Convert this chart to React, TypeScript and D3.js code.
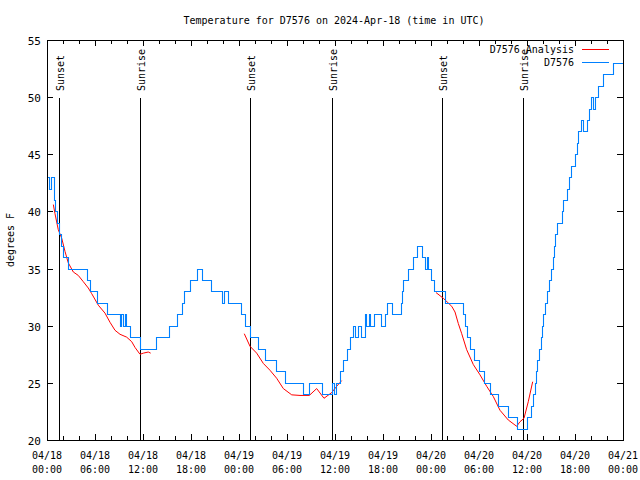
import React from "react";
import * as d3 from "d3";

const TITLE = "Temperature for D7576 on 2024-Apr-18 (time in UTC)";
const Y_LABEL = "degrees F";
const SERIES_NAMES = ["D7576 Analysis", "D7576"];
const Y_TICKS = [20, 25, 30, 35, 40, 45, 50, 55];
const X_LABEL_HOURS = [0, 6, 12, 18, 24, 30, 36, 42, 48, 54, 60, 66, 72];
const X_MINOR_HOURS = d3.range(0, 73, 2);
const START_DAY = 18;

// Sun events: hours since 04/18 00:00 UTC
const SUN_EVENTS: [number, string][] = [
  [1.45, "Sunset"],
  [11.65, "Sunrise"],
  [25.4, "Sunset"],
  [35.6, "Sunrise"],
  [49.4, "Sunset"],
  [59.55, "Sunrise"],
];

// Observed station temperatures [hour, °F] (stepped)
const OBSERVED: [number, number][] = [
  [0, 43], [0.25, 42], [0.5, 43], [0.875, 41], [1.0, 40], [1.25, 39], [1.5, 38], [1.75, 37],
  [2.0, 36], [2.625, 35], [5.0, 34], [5.375, 33], [6.25, 32], [7.5, 31], [9.125, 30], [9.3, 31],
  [9.5, 30], [9.7, 31], [9.85, 30], [10.375, 29], [11.625, 28], [13.625, 29], [15.25, 30],
  [16.25, 31], [16.875, 32], [17.125, 33], [17.875, 34], [18.75, 35], [19.375, 34], [20.5, 33],
  [21.875, 32], [22.125, 33], [22.625, 32], [24.25, 31], [24.75, 30], [25.375, 29], [26.375, 28],
  [27.25, 27], [28.625, 26], [29.75, 25], [32.0, 24], [32.75, 25], [34.375, 24], [35.625, 25],
  [35.875, 24], [36.125, 25], [36.625, 26], [37.0, 27], [37.5, 28], [37.875, 29], [38.25, 30],
  [38.5, 29], [38.875, 30], [39.25, 29], [39.75, 31], [39.875, 30], [40.25, 31], [40.375, 30],
  [40.875, 31], [41.75, 30], [42.25, 31], [42.5, 32], [43.125, 31], [44.25, 32], [44.375, 33],
  [44.5, 34], [45.125, 35], [45.75, 36], [46.25, 37], [46.875, 36], [47.25, 35], [47.5, 36],
  [47.625, 35], [48.0, 34], [48.375, 33], [49.75, 32], [52.0, 31], [52.25, 30], [52.5, 29],
  [52.875, 28], [53.375, 27], [54.0, 26], [54.625, 25], [55.375, 24], [56.375, 23], [57.625, 22],
  [58.75, 21], [60.0, 22], [60.5, 23], [60.75, 24], [60.94, 25], [61.125, 26], [61.31, 27],
  [61.5, 28], [61.69, 29], [61.875, 30], [62.06, 31], [62.25, 32], [62.5, 33], [62.75, 34],
  [63.0, 35], [63.19, 36], [63.375, 37], [63.56, 38], [63.69, 39], [64.375, 40], [64.56, 41],
  [65.0, 42], [65.19, 43], [65.44, 44], [65.94, 45], [66.19, 46], [66.375, 47], [66.75, 48],
  [66.94, 47], [67.44, 48], [67.69, 49], [68.0, 50], [68.25, 49], [68.5, 50], [68.875, 51],
  [69.5, 52], [70.75, 53], [72, 53],
];

// Analysis segments [hour, °F]
const ANALYSIS_1: [number, number][] = [
  [0.79, 40.6], [1.0, 39.8], [1.41, 38.4], [1.84, 37.65], [2.25, 36.5], [2.66, 35.5], [3.29, 34.7],
  [3.91, 34.4], [4.54, 33.85], [5.16, 33.3], [5.59, 32.8], [6.41, 31.8], [7.25, 31.1], [7.875, 30.3],
  [8.5, 29.6], [9.125, 29.25], [9.96, 29.0], [10.59, 28.6], [11.0, 28.1], [11.625, 27.5],
  [12.04, 27.6], [12.66, 27.7], [12.96, 27.6],
];
const ANALYSIS_2: [number, number][] = [
  [24.66, 29.3], [25.375, 28.2], [26.21, 27.6], [27.04, 26.7], [27.875, 26.1], [28.71, 25.4],
  [29.54, 24.5], [30.59, 23.95], [31.625, 23.9], [32.79, 23.9], [33.71, 24.5], [34.625, 23.65],
  [35.59, 24.15], [36.21, 24.7], [36.84, 25.2],
];
const ANALYSIS_3: [number, number][] = [
  [48.625, 32.9], [49.54, 32.4], [50.59, 31.7], [51.0, 31.2], [51.41, 30.2], [51.84, 29.3],
  [52.46, 27.9], [53.29, 26.6], [54.125, 25.7], [54.96, 24.7], [55.79, 23.8], [56.625, 22.6],
  [57.66, 21.75], [58.71, 21.2], [59.125, 21.6], [59.625, 21.9], [60.16, 23.35], [60.71, 25.1],
];

const BLUE = "#0080ff";
const RED = "#ff0000";
const FONT = "'DejaVu Sans Mono', 'Liberation Mono', monospace";

export default function App() {
  const W = 640, H = 480;
  const L = 47, R = 623, T = 40, B = 440;
  const x = d3.scaleLinear().domain([0, 72]).range([L, R]);
  const y = d3.scaleLinear().domain([20, 55]).range([B, T]);

  const stepLine = d3.line<[number, number]>()
    .x(d => Math.round(x(d[0])) + 0.5)
    .y(d => Math.round(y(d[1])) + 0.5)
    .curve(d3.curveStepAfter);
  const line = d3.line<[number, number]>()
    .x(d => x(d[0]))
    .y(d => y(d[1]));

  const fmt = (h: number) => {
    const day = START_DAY + Math.floor(h / 24);
    const hh = h % 24;
    return [`04/${String(day).padStart(2, "0")}`, `${String(hh).padStart(2, "0")}:00`];
  };

  return (
    <svg width={W} height={H} style={{ position: "absolute", left: 0, top: 0, background: "#fff" }}
      fontFamily={FONT}>
      <rect x={0} y={0} width={W} height={H} fill="#fff" />
      <text x={334} y={24} fontSize={10} textAnchor="middle" fill="#000">{TITLE}</text>

      {/* y ticks */}
      {Y_TICKS.map(t => {
        const yy = Math.round(y(t)) + 0.5;
        return (
          <g key={"y" + t}>
            <line x1={L} x2={L + 6} y1={yy} y2={yy} stroke="#000" />
            <line x1={R - 6} x2={R} y1={yy} y2={yy} stroke="#000" />
            <text x={41} y={yy + 4} fontSize={11} textAnchor="end" fill="#000">{t}</text>
          </g>
        );
      })}

      {/* x ticks */}
      {X_MINOR_HOURS.map(h => {
        const xx = Math.round(x(h)) + 0.5;
        const major = h % 6 === 0;
        const len = major ? 6 : 4;
        return (
          <g key={"x" + h}>
            <line x1={xx} x2={xx} y1={B} y2={B - len} stroke="#000" />
            <line x1={xx} x2={xx} y1={T} y2={T + len} stroke="#000" />
          </g>
        );
      })}
      {X_LABEL_HOURS.map(h => {
        const [a, b] = fmt(h);
        return (
          <g key={"xl" + h}>
            <text x={x(h)} y={459} fontSize={10} textAnchor="middle" fill="#000">{a}</text>
            <text x={x(h)} y={473} fontSize={10} textAnchor="middle" fill="#000">{b}</text>
          </g>
        );
      })}

      <text transform={`translate(14,240) rotate(-90)`} fontSize={10} textAnchor="middle" fill="#000">{Y_LABEL}</text>

      {/* sun events */}
      {SUN_EVENTS.map(([h, label], i) => {
        const xx = Math.round(x(h)) + 0.5;
        return (
          <g key={"s" + i}>
            <line x1={xx} x2={xx} y1={98} y2={B} stroke="#000" />
            <text transform={`translate(${xx + 4},91) rotate(-90)`} fontSize={10} fill="#000">{label}</text>
          </g>
        );
      })}

      {/* series */}
      {[ANALYSIS_1, ANALYSIS_2, ANALYSIS_3].map((seg, i) => (
        <path key={"a" + i} d={line(seg) || ""} fill="none" stroke={RED} strokeWidth={1} />
      ))}
      <path d={stepLine(OBSERVED) || ""} fill="none" stroke={BLUE} strokeWidth={1.1} />

      {/* legend */}
      <text x={574} y={53} fontSize={10} textAnchor="end" fill="#000">{SERIES_NAMES[0]}</text>
      <line x1={582} x2={609} y1={49.5} y2={49.5} stroke={RED} />
      <text x={574} y={66} fontSize={10} textAnchor="end" fill="#000">{SERIES_NAMES[1]}</text>
      <line x1={582} x2={609} y1={62.5} y2={62.5} stroke={BLUE} />

      {/* border */}
      <rect x={L + 0.5} y={T + 0.5} width={R - L} height={B - T} fill="none" stroke="#000" />
    </svg>
  );
}
